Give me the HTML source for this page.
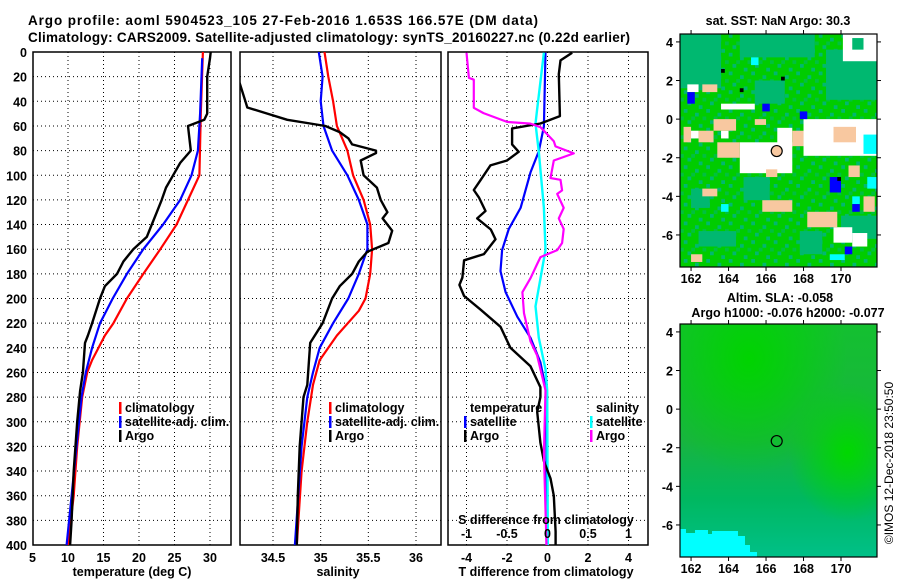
<!DOCTYPE html>
<html><head><meta charset="utf-8"><style>
html,body{margin:0;padding:0;background:#fff;width:900px;height:580px;overflow:hidden}
svg{display:block;font-family:"Liberation Sans",sans-serif;font-weight:bold}
</style></head><body>
<svg id="fig" width="900" height="580" viewBox="0 0 900 580">
<defs>
<clipPath id="c1"><rect x="33" y="52" width="198" height="493"/></clipPath>
<clipPath id="c2"><rect x="240" y="52" width="201" height="493"/></clipPath>
<clipPath id="c3"><rect x="448" y="52" width="200" height="493"/></clipPath>
<clipPath id="cm1"><rect x="680" y="34" width="197" height="233"/></clipPath>
<clipPath id="cm2"><rect x="680" y="324" width="197" height="233"/></clipPath>
<pattern id="tex" x="680" y="34" width="22.5" height="18.75" patternUnits="userSpaceOnUse">
<rect x="0" y="0" width="22.5" height="18.75" fill="#00cc00"/>
<rect x="3.75" y="0" width="3.75" height="3.75" fill="#00b870"/>
<rect x="15" y="3.75" width="3.75" height="3.75" fill="#00b870"/>
<rect x="7.5" y="11.25" width="3.75" height="3.75" fill="#00b870"/>
<rect x="18.75" y="15" width="3.75" height="3.75" fill="#00b870"/>
<rect x="0" y="7.5" width="3.75" height="3.75" fill="#00c040"/>
<rect x="11.25" y="7.5" width="3.75" height="3.75" fill="#00c040"/>
</pattern>
<radialGradient id="g1" cx="0.35" cy="0.15" r="0.5"><stop offset="0" stop-color="#00d400"/><stop offset="1" stop-color="#00d400" stop-opacity="0"/></radialGradient>
<radialGradient id="g2" cx="0.85" cy="0.55" r="0.3"><stop offset="0" stop-color="#00d800"/><stop offset="1" stop-color="#00d800" stop-opacity="0"/></radialGradient>
<linearGradient id="g3" x1="0" y1="0" x2="0" y2="1"><stop offset="0" stop-color="#14c030"/><stop offset="0.5" stop-color="#18b440"/><stop offset="0.75" stop-color="#00b860"/><stop offset="1" stop-color="#00c088"/></linearGradient>
</defs>
<text x="283" y="25" text-anchor="middle" font-size="13.5" textLength="510">Argo profile: aoml 5904523_105 27-Feb-2016 1.653S 166.57E (DM data)</text>
<text x="28" y="42" font-size="13.5" textLength="602">Climatology: CARS2009. Satellite-adjusted climatology: synTS_20160227.nc (0.22d earlier)</text>
<g id="p1"></g>
<g id="p2"></g>
<g id="p3"></g>
<g id="m1"></g>
<g id="m2"></g>
<text transform="translate(893,463) rotate(-90)" text-anchor="middle" font-size="12" font-weight="normal">©IMOS 12-Dec-2018 23:50:50</text>
</svg>
<script>
// ---- data ----
const tArgoD=[0,5,20,50,55,60,80,90,100,110,120,130,140,150,160,170,180,190,200,220,230,236,260,275,300,340,380,400];
const tArgoV=[30.1,30.0,29.6,29.6,29.2,26.9,27.3,25.8,24.8,23.8,23.2,22.5,21.8,21.1,19.2,17.8,16.9,15.2,14.5,13.4,12.8,12.4,12.1,11.7,11.3,10.8,10.5,10.3];
const tClimD=[0,50,100,120,140,160,180,200,220,230,250,260,280,320,360,400];
const tClimV=[29.0,28.7,28.5,26.9,25.3,23.0,20.6,18.3,16.4,15.2,13.4,12.7,12.0,11.3,10.8,10.0];
const tSatD=[5,50,80,100,120,140,160,180,200,220,240,260,280,320,360,400];
const tSatV=[28.9,28.6,28.3,27.4,25.8,23.4,20.6,18.3,16.3,14.5,13.4,12.5,11.9,11.2,10.5,9.8];
const sArgoD=[25,40,45,50,55,58,60,65,70,75,80,82,88,100,110,120,130,135,145,155,162,170,180,190,200,220,236,270,280,320,360,400];
const sArgoV=[34.15,34.21,34.23,34.44,34.65,34.89,35.05,35.2,35.29,35.33,35.58,35.58,35.42,35.45,35.59,35.63,35.7,35.65,35.75,35.71,35.49,35.4,35.33,35.2,35.12,35.02,34.89,34.86,34.82,34.78,34.76,34.75];
const sClimD=[0,20,40,60,80,100,120,140,160,180,200,210,230,250,270,300,340,400];
const sClimV=[35.04,35.08,35.13,35.17,35.28,35.34,35.45,35.52,35.54,35.52,35.47,35.4,35.17,34.99,34.92,34.86,34.8,34.75];
const sSatD=[0,20,40,60,80,100,120,140,160,180,200,220,240,260,280,320,400];
const sSatV=[34.98,35.02,35.0,35.03,35.12,35.28,35.4,35.49,35.49,35.4,35.29,35.13,34.99,34.92,34.86,34.8,34.73];
const dtArgoD=[0.6,6.8,18,52,58,62,75,81,88,92,104,112,118,129,135,144,152,164,169,183,189,198,209,223,240,255,272,280,292,317,332,346,360,389,400];
const dtArgoV=[1.22,0.64,0.56,0.61,-0.35,-1.75,-1.75,-1.42,-2.0,-2.82,-3.31,-3.64,-3.39,-3.06,-3.47,-2.8,-2.57,-3.14,-4.12,-4.2,-4.35,-4.12,-3.31,-2.32,-1.83,-0.84,-0.35,-0.35,-0.51,-0.35,-0.18,0.15,0.31,0.4,0.4];
const dtSatD=[0.6,60.4,80.6,97.7,126.5,143.6,160.7,177.8,194.9,214.8,231.9,251.8,271.8,303,400];
const dtSatV=[-0.1,-0.18,-0.43,-0.84,-1.33,-1.91,-2.24,-2.32,-2.07,-1.49,-0.84,-0.35,-0.1,-0.05,-0.05];
const dsSatD=[0.6,46.7,58.1,80.9,126.5,160.7,183.5,206.3,231.9,257.5,274.6,400];
const dsSatV=[-0.045,-0.128,-0.148,-0.107,-0.045,-0.025,-0.086,-0.148,-0.107,-0.025,-0.004,0.004];
const dsArgoD=[0.6,21,22.5,45.3,49.6,56.7,58.1,61,66.7,72.4,76.6,82.3,88,102.3,103.7,112.3,115.1,126.5,135,143.6,155,160.7,166.4,172.1,183.5,194.9,212,234.8,246.2,263.3,274.6,325.9,400];
const dsArgoV=[-1.0,-0.97,-0.91,-0.91,-0.79,-0.5,-0.21,-0.086,-0.004,0.078,0.099,0.325,0.078,0.037,0.16,0.18,0.12,0.2,0.14,0.2,0.18,0.12,-0.086,-0.128,-0.21,-0.31,-0.29,-0.21,-0.128,-0.066,-0.025,-0.045,-0.012];
const depthTicks=[0,20,40,60,80,100,120,140,160,180,200,220,240,260,280,300,320,340,360,380,400];
const tTicks=[5,10,15,20,25,30];
const sTicks=[34.5,35,35.5,36];
const dTTicks=[-4,-2,0,2,4];
const dSTicks=[-1,-0.5,0,0.5,1];
const lonTicks=[162,164,166,168,170];
const latTicks=[4,2,0,-2,-4,-6];
const profLon=166.57, profLat=-1.653;
// SST map patches: [lon0,lon1,lat0,lat1,color]
const sstPatches=[
[161.4,163.6,4.4,1.6,'#00b870'],[164.6,168.6,4.4,3.2,'#00b870'],[169.2,171.9,3.6,1.0,'#00b870'],
[165.4,167.0,2.0,0.8,'#00b870'],[162.0,163.0,-3.6,-4.6,'#00b870'],[164.8,166.2,-3.0,-4.2,'#00b870'],
[167.8,169.0,-5.8,-7.0,'#00b870'],[162.4,164.4,-5.8,-6.6,'#00b870'],[170.0,171.9,-5.0,-6.2,'#00b870'],
[170.1,171.9,4.4,3.0,'#ffffff'],[170.6,171.2,4.2,3.6,'#00b870'],
[164.6,167.4,-1.2,-2.8,'#ffffff'],[166.6,167.4,-0.45,-1.45,'#ffffff'],[168.0,171.9,0.0,-1.9,'#ffffff'],
[169.6,170.6,-5.6,-6.4,'#ffffff'],[170.6,171.4,-5.9,-6.6,'#ffffff'],[163.6,165.4,0.8,0.5,'#ffffff'],
[161.8,162.4,1.8,1.4,'#ffffff'],[161.8,162.4,-0.6,-1.0,'#ffffff'],[163.6,164.0,-0.6,-1.0,'#ffffff'],
[161.6,162.0,-0.4,-1.2,'#f8c8a0'],[162.4,163.2,-0.6,-1.2,'#f8c8a0'],[163.2,164.4,0.0,-0.6,'#f8c8a0'],
[163.4,164.6,-1.2,-2.0,'#f8c8a0'],[167.4,168.0,-0.6,-1.4,'#f8c8a0'],[169.6,170.8,-0.4,-1.2,'#f8c8a0'],
[170.4,171.0,-2.4,-3.0,'#f8c8a0'],[171.2,171.8,-4.0,-4.8,'#f8c8a0'],[168.2,169.8,-4.8,-5.6,'#f8c8a0'],
[162.0,162.6,-7.0,-7.4,'#f8c8a0'],[162.6,163.4,-3.6,-4.0,'#f8c8a0'],[166.0,166.6,-2.6,-3.0,'#f8c8a0'],
[165.8,167.4,-4.2,-4.8,'#f8c8a0'],[162.6,163.4,1.8,1.4,'#f8c8a0'],[165.4,166.0,0.0,-0.3,'#f8c8a0'],
[171.2,171.9,-0.8,-1.8,'#00ffff'],[171.4,171.9,-3.0,-3.6,'#00ffff'],[170.6,171.0,-4.0,-4.4,'#00ffff'],
[169.4,170.2,-7.0,-7.3,'#00ffff'],[163.6,164.0,-4.4,-4.8,'#00ffff'],[165.2,165.6,3.2,2.8,'#00ffff'],
[169.4,170.0,-3.0,-3.8,'#0000ff'],[170.6,171.0,-4.4,-4.8,'#0000ff'],[170.2,170.6,-6.6,-7.0,'#0000ff'],
[165.8,166.2,0.8,0.4,'#0000ff'],[161.8,162.2,1.4,0.8,'#0000ff'],[167.8,168.2,0.4,0.0,'#0000ff'],
[169.8,170.0,-3.0,-3.2,'#000000'],[163.6,163.8,2.6,2.4,'#000000'],[166.8,167.0,2.2,2.0,'#000000'],[164.6,164.8,1.6,1.4,'#000000']];
// ---- helpers ----
const NS='http://www.w3.org/2000/svg';
function mk(parent,tag,attrs,txt){const e=document.createElementNS(NS,tag);for(const k in attrs)e.setAttribute(k,attrs[k]);if(txt!==undefined)e.textContent=txt;parent.appendChild(e);return e;}
const Y0=52,Y1=545;
const yD=d=>Y0+(d/400)*(Y1-Y0);
function lin(d0,d1,r0,r1){return v=>r0+(v-d0)/(d1-d0)*(r1-r0);}
const x1=lin(5,33,32.5,231.3);
const x2=lin(34.5,36,273,416);
const x3=lin(-4,4,466.5,628.5);
const x3s=lin(-1,1,466.5,628.5);
function frame(g,xa,xb,xticks,xf,showY){
  const gr=mk(g,'g',{});
  
  
  depthTicks.forEach(d=>{if(d>0&&d<400){mk(gr,'line',{x1:xa,x2:xb,y1:yD(d),y2:yD(d),stroke:'#000','stroke-width':1,'stroke-dasharray':'1,3'});}});
  xticks.forEach(t=>{const x=xf(t);if(x>xa+2&&x<xb-2)mk(gr,'line',{x1:x,x2:x,y1:Y0,y2:Y1,stroke:'#000','stroke-width':1,'stroke-dasharray':'1,3'});});
  const r=mk(g,'rect',{x:xa,y:Y0,width:xb-xa,height:Y1-Y0,fill:'none',stroke:'#000','stroke-width':1.5});
  
  
  if(showY){depthTicks.forEach(d=>{const t=mk(g,'text',{x:27,y:yD(d)+5,'text-anchor':'end','font-size':12.5},d);
    
    });}
}
function line(g,clip,D,V,xf,col,w,name){
  const pts=D.map((d,i)=>xf(V[i]).toFixed(1)+','+yD(d).toFixed(1)).join(' ');
  const p=mk(g,'polyline',{points:pts,fill:'none',stroke:col,'stroke-width':w,'clip-path':'url(#'+clip+')','stroke-linejoin':'round'});
  
  
}
function xlab(g,ticks,xf,y){ticks.forEach(t=>{const e=mk(g,'text',{x:xf(t),y:y,'text-anchor':'middle','font-size':12.5},t);
  
  });}
function legend(g,x,y,items){items.forEach((it,i)=>{const yy=y+i*14;
  const m=mk(g,'rect',{x:x-6,y:yy-10,width:2.5,height:12,fill:it[1]});
  
  
  const t=mk(g,'text',{x:x,y:yy,'font-size':12.5},it[0]);
  
  });}
// ---- panel 1 ----
const p1=document.getElementById('p1');
frame(p1,33,231,tTicks,x1,true);
line(p1,'c1',tClimD,tClimV,x1,'#ff0000',2.2,'temp-climatology-line');
line(p1,'c1',tSatD,tSatV,x1,'#0000ff',2.2,'temp-satellite-line');
line(p1,'c1',tArgoD,tArgoV,x1,'#000000',2.4,'temp-argo-line');
xlab(p1,tTicks,x1,562);
let tl=mk(p1,'text',{x:132,y:576,'text-anchor':'middle','font-size':12.5},'temperature (deg C)');


legend(p1,125,412,[['climatology','#ff0000'],['satellite-adj. clim.','#0000ff'],['Argo','#000000']]);
// ---- panel 2 ----
const p2=document.getElementById('p2');
frame(p2,240,441,sTicks,x2,false);
line(p2,'c2',sClimD,sClimV,x2,'#ff0000',2.2,'sal-climatology-line');
line(p2,'c2',sSatD,sSatV,x2,'#0000ff',2.2,'sal-satellite-line');
line(p2,'c2',sArgoD,sArgoV,x2,'#000000',2.4,'sal-argo-line');
xlab(p2,sTicks,x2,562);
tl=mk(p2,'text',{x:338,y:576,'text-anchor':'middle','font-size':12.5},'salinity');


legend(p2,335,412,[['climatology','#ff0000'],['satellite-adj. clim.','#0000ff'],['Argo','#000000']]);
// ---- panel 3 ----
const p3=document.getElementById('p3');
frame(p3,448,648,dTTicks,x3,false);
line(p3,'c3',dtSatD,dtSatV,x3,'#0000ff',2.2,'tdiff-satellite-line');
line(p3,'c3',dsSatD,dsSatV,x3s,'#00ffff',2.4,'sdiff-satellite-line');
line(p3,'c3',dtArgoD,dtArgoV,x3,'#000000',2.4,'tdiff-argo-line');
line(p3,'c3',dsArgoD,dsArgoV,x3s,'#ff00ff',2.2,'sdiff-argo-line');
legend(p3,470,412,[['temperature','none'],['satellite','#0000ff'],['Argo','#000000']]);
legend(p3,596,412,[['salinity','none'],['satellite','#00ffff'],['Argo','#ff00ff']]);
tl=mk(p3,'text',{x:546,y:524,'text-anchor':'middle','font-size':12.5},'S difference from climatology');


xlab(p3,dSTicks,x3s,538);
xlab(p3,dTTicks,x3,562);
tl=mk(p3,'text',{x:546,y:576,'text-anchor':'middle','font-size':12.5},'T difference from climatology');


// ---- maps ----
function mapAxes(g,top,bot,lonF,latF){
  lonTicks.forEach(l=>{const x=lonF(l);mk(g,'line',{x1:x,x2:x,y1:top-4,y2:top,stroke:'#000'});mk(g,'line',{x1:x,x2:x,y1:bot,y2:bot+4,stroke:'#000'});
    const t=mk(g,'text',{x:x,y:bot+16,'text-anchor':'middle','font-size':12.5},l);
    
    });
  latTicks.forEach(l=>{const y=latF(l);mk(g,'line',{x1:676,x2:680,y1:y,y2:y,stroke:'#000'});mk(g,'line',{x1:877,x2:881,y1:y,y2:y,stroke:'#000'});
    const t=mk(g,'text',{x:673,y:y+5,'text-anchor':'end','font-size':12.5},l);
    
    });
  const r=mk(g,'rect',{x:680,y:top,width:197,height:bot-top,fill:'none',stroke:'#000','stroke-width':1.2});
  
  
}
const lonF=lin(161.41,171.92,680,877);
const lat1=lin(4.41,-7.66,34,267);
const lat2=lin(4.41,-7.66,324,557);
const m1=document.getElementById('m1');
let t=mk(m1,'text',{x:778,y:25,'text-anchor':'middle','font-size':12.5},'sat. SST: NaN Argo: 30.3');


const mg=mk(m1,'g',{'clip-path':'url(#cm1)'});
mk(mg,'rect',{x:680,y:34,width:197,height:233,fill:'url(#tex)'});
sstPatches.forEach(p=>{const r=mk(mg,'rect',{x:lonF(p[0]),y:lat1(p[2]),width:lonF(p[1])-lonF(p[0]),height:lat1(p[3])-lat1(p[2]),fill:p[4]});
  
  });
let c=mk(m1,'circle',{cx:lonF(profLon),cy:lat1(profLat),r:5.5,fill:'#f8c8a0',stroke:'#000','stroke-width':1.2});


mapAxes(m1,34,267,lonF,lat1);
const m2=document.getElementById('m2');
t=mk(m2,'text',{x:780,y:302,'text-anchor':'middle','font-size':12.5},'Altim. SLA: -0.058');


t=mk(m2,'text',{x:788,y:317,'text-anchor':'middle','font-size':12.5},'Argo h1000: -0.076 h2000: -0.077');


const mg2=mk(m2,'g',{'clip-path':'url(#cm2)'});
mk(mg2,'rect',{x:680,y:324,width:197,height:233,fill:'url(#g3)'});
mk(mg2,'rect',{x:680,y:324,width:197,height:233,fill:'url(#g1)'});
mk(mg2,'rect',{x:680,y:324,width:197,height:233,fill:'url(#g2)'});
const cy=mk(mg2,'polygon',{points:'680,529 686,529 686,533 695,533 695,530 708,530 708,534 712,534 712,531 738,531 738,536 745,536 745,545 750,545 750,552 757,552 757,557 680,557',fill:'#00ffff'});


c=mk(m2,'circle',{cx:lonF(profLon),cy:lat2(profLat),r:5.5,fill:'none',stroke:'#000','stroke-width':1.2});


mapAxes(m2,324,557,lonF,lat2);
</script>
</body></html>
